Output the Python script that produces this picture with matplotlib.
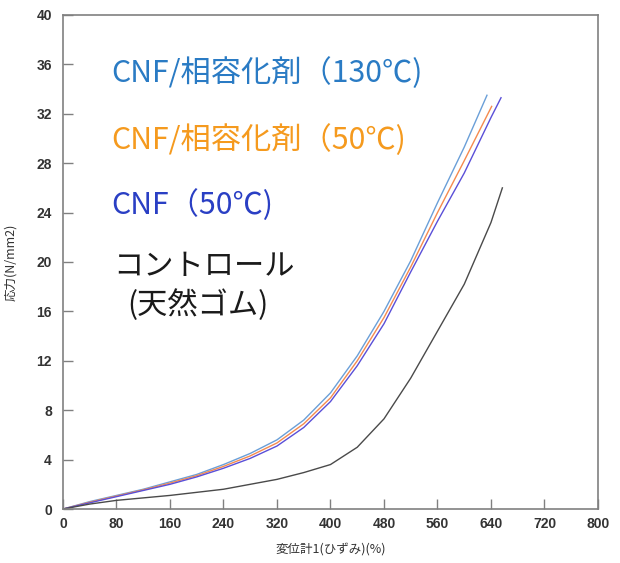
import numpy as np
import matplotlib
matplotlib.use('Agg')
import matplotlib.pyplot as plt

plt.rcParams['font.family'] = ['Noto Sans CJK JP', 'DejaVu Sans']

# strain (%) vs stress (N/mm2)
x_130 = [0, 40, 80, 120, 160, 200, 240, 280, 320, 360, 400, 440, 480, 520, 560, 600, 634]
y_130 = [0, 0.6, 1.1, 1.6, 2.2, 2.8, 3.6, 4.5, 5.6, 7.2, 9.4, 12.4, 16.0, 20.1, 24.8, 29.3, 33.5]

x_50c = [0, 40, 80, 120, 160, 200, 240, 280, 320, 360, 400, 440, 480, 520, 560, 600, 641]
y_50c = [0, 0.55, 1.05, 1.55, 2.1, 2.7, 3.45, 4.3, 5.35, 6.9, 9.0, 12.0, 15.5, 19.6, 24.0, 28.2, 32.6]

x_cnf = [0, 40, 80, 120, 160, 200, 240, 280, 320, 360, 400, 440, 480, 520, 560, 600, 640, 655]
y_cnf = [0, 0.5, 1.0, 1.5, 2.0, 2.6, 3.3, 4.1, 5.1, 6.6, 8.7, 11.6, 15.0, 19.2, 23.3, 27.2, 31.7, 33.3]

x_ctrl = [0, 40, 80, 120, 160, 200, 240, 280, 320, 360, 400, 440, 480, 520, 560, 600, 640, 657]
y_ctrl = [0, 0.4, 0.7, 0.9, 1.1, 1.35, 1.6, 2.0, 2.4, 2.95, 3.6, 5.0, 7.3, 10.6, 14.4, 18.2, 23.2, 26.0]

labels = ['CNF/相容化剤（130℃)', 'CNF/相容化剤（50℃)', 'CNF（50℃)', 'コントロール', '(天然ゴム)']
line_colors = ['#6a9fd8', '#f58a4e', '#5a4fd8', '#4a4a4a']
text_colors = ['#2a7bc4', '#f59a1e', '#2a3fc4', '#1a1a1a', '#1a1a1a']
xticks = np.arange(0, 801, 80)
yticks = np.arange(0, 41, 4)

fig = plt.figure(figsize=(6.2, 5.63), dpi=100)
ax = fig.add_axes([0.1016, 0.0959, 0.8629, 0.8775])

series = [(x_130, y_130), (x_50c, y_50c), (x_cnf, y_cnf), (x_ctrl, y_ctrl)]
for (xs, ys), c in zip(series, line_colors):
    ax.plot(xs, ys, color=c, lw=1.0)

ax.set_xlim(0, 800)
ax.set_ylim(0, 40)
ax.set_xticks(xticks)
ax.set_yticks(yticks)
ax.tick_params(direction='in', length=7, width=1, color='#808080',
               labelsize=10, labelcolor='#333333')
ax.tick_params(axis='y', pad=8)
ax.tick_params(axis='x', pad=6)
for lab in ax.get_xticklabels() + ax.get_yticklabels():
    lab.set_fontfamily(['Liberation Sans', 'DejaVu Sans'])
    lab.set_fontweight('bold')
for sp in ax.spines.values():
    sp.set_color('#808080')
    sp.set_linewidth(1.2)

ax.set_xlabel('変位計1(ひずみ)(%)', fontsize=9, color='#333333', labelpad=9)
ax.set_ylabel('応力(N/mm2)', fontsize=9, color='#333333', labelpad=14)

# in-plot labels
text_x = [72, 72, 72, 75, 96]
text_y = [35.3, 29.9, 24.6, 19.6, 16.5]
for lab, col, tx, ty in zip(labels, text_colors, text_x, text_y):
    ax.text(tx, ty, lab, color=col, fontsize=21.8, va='center', ha='left')

fig.savefig('out.png', dpi=100)
